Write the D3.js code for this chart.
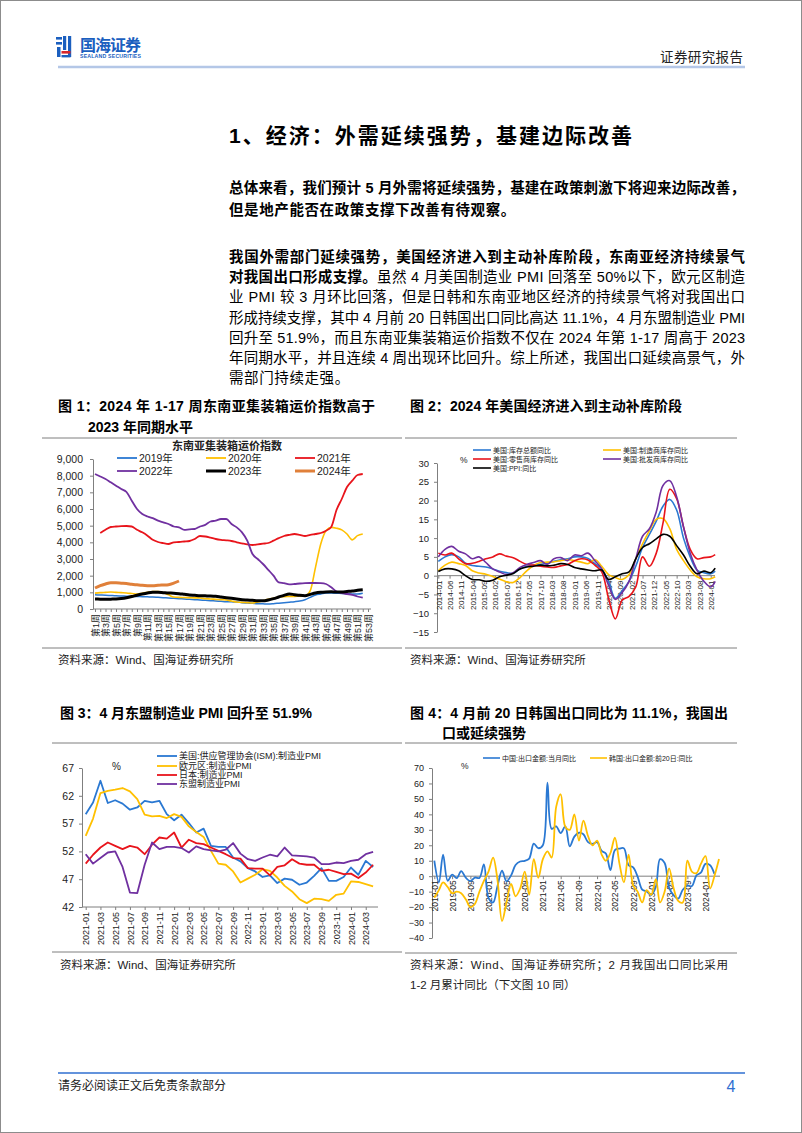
<!DOCTYPE html>
<html>
<head>
<meta charset="utf-8">
<script src="https://cdnjs.cloudflare.com/ajax/libs/d3/7.8.5/d3.min.js"></script>
<style>
  body { margin: 0; background: #fff; }
  svg { display: block; }
</style>
</head>
<body>
<script>
// ---------- fig 1: 东南亚集装箱运价指数 (weekly) ----------
const weeks = d3.range(1, 54);
const ship2019 = [850, 840, 830, 810, 790, 780, 770, 760, 750, 740, 730, 720, 700, 680, 660, 640, 620, 600, 580, 560,
  540, 520, 500, 480, 460, 440, 430, 420, 380, 360, 340, 320, 310, 300, 320, 350, 380, 410, 440, 480,
  560, 700, 840, 900, 960, 960, 950, 930, 920, 900, 900, 950];
const ship2020 = [950, 980, 1000, 1020, 1000, 980, 960, 930, 900, 950, 1000, 1040, 1050, 980, 850, 720, 700, 690, 680, 670,
  660, 620, 600, 580, 560, 540, 480, 420, 400, 380, 360, 420, 500, 580, 650, 720, 740, 750, 760, 770,
  780, 1100, 2500, 3900, 4700, 4900, 4850, 4750, 4500, 4150, 4400, 4500];
const ship2021 = [null, 4560, 4750, 4920, 4950, 4970, 4980, 4950, 4750, 4600, 4400, 4150, 4020, 3950, 3900, 4000, 4020, 4050, 4080, 4200,
  4380, 4350, 4280, 4200, 4150, 4120, 4080, 4000, 3940, 3880, 3840, 3880, 3920, 3960, 4100, 4250, 4380, 4450, 4500, 4450,
  4380, 4450, 4500, 4560, 4700, 4920, 5940, 6600, 7320, 7700, 8040, 8100];
const ship2022 = [8100, 7950, 7800, 7600, 7400, 7200, 7020, 6500, 6000, 5700, 5550, 5450, 5300, 5200, 5100, 4950, 4900, 4750, 4780, 4800,
  4950, 5050, 5250, 5300, 5400, 5400, 5100, 4900, 4600, 4100, 3300, 3000, 2700, 2350, 2000, 1600, 1550, 1480, 1500, 1530,
  1550, 1560, 1560, 1550, 1500, 1300, 1050, 950, 900, 850, 750, 680];
const ship2023 = [600, 590, 580, 590, 600, 630, 680, 750, 830, 900, 960, 1000, 1000, 980, 960, 950, 920, 880, 840, 820,
  800, 790, 780, 760, 720, 680, 640, 600, 560, 540, 520, 500, 490, 540, 620, 720, 820, 900, 860, 820,
  800, 880, 960, 1000, 1020, 1030, 1020, 1020, 1050, 1080, 1120, 1150];
const ship2024 = [1260, 1400, 1500, 1580, 1570, 1550, 1530, 1480, 1450, 1420, 1400, 1390, 1420, 1440, 1460, 1550, 1680];
const shipYears = ["2019年", "2020年", "2021年", "2022年", "2023年", "2024年"];

// ---------- fig 2: 美国库存 (quarterly readings, 2014-01 .. 2024-03) ----------
const invMonths = d3.utcMonths(new Date(Date.UTC(2014, 0, 1)), new Date(Date.UTC(2024, 1, 1)), 3)
  .concat([new Date(Date.UTC(2024, 2, 1))]);
const invTotal = [3.8, 5.0, 5.6, 5.0, 3.3, 2.7, 2.5, 2.3, 1.8, 1.2, 0.8, 0.6, 1.8, 2.5, 2.8, 3.0, 3.3, 3.8, 4.2, 4.5,
  5.0, 5.0, 4.6, 3.2, 1.8, -1.5, -6.0, -4.0, -1.5, 2.5, 7.5, 11.0, 14.5, 18.5, 20.3, 17.5, 10.0, 5.0, 1.5, 0.8, 0.5, 1.2];
const invMfg = [1.3, 2.8, 3.6, 3.2, 2.7, 1.3, 0.7, 0.4, -0.2, -0.9, -1.6, -1.8, -0.5, 1.3, 2.7, 3.5, 3.6, 3.7, 4.0, 4.3,
  4.0, 3.6, 3.2, 4.3, 2.5, 0.3, -0.5, -1.0, 0.3, 4.5, 8.5, 12.0, 15.0, 15.2, 12.5, 7.0, 4.0, 1.5, -0.3, -0.8, -0.8, -0.3];
const invRetail = [6.0, 5.5, 6.0, 4.5, 3.2, 3.3, 3.8, 4.5, 5.0, 5.8, 5.2, 4.8, 3.8, 3.0, 2.8, 2.5, 2.3, 2.2, 2.6, 3.0,
  4.0, 4.5, 4.2, 2.8, 1.0, -6.0, -11.5, -6.5, -5.5, -3.0, 5.0, 2.5, 6.0, 14.0, 23.0, 20.5, 13.0, 7.0, 4.5, 4.8, 5.0, 5.6];
const invWholesale = [5.0, 7.0, 7.8, 6.5, 5.8, 4.5, 5.0, 3.5, 1.8, 1.0, 0.3, 0.8, 2.2, 3.0, 3.5, 4.0, 3.0, 4.5, 4.8, 4.0,
  5.5, 5.3, 6.0, 4.0, 1.8, -2.5, -6.3, -4.5, -1.5, 4.5, 10.5, 12.5, 17.0, 24.0, 25.3, 21.0, 13.0, 6.0, 1.5, -1.5, -3.0, -1.5];
const usPpi = [1.1, 1.8, 1.8, 1.3, 0.0, -1.0, -1.1, -1.5, -1.2, -0.3, 0.1, 0.6, 1.8, 2.3, 2.5, 2.8, 2.6, 2.8, 3.2, 3.0,
  2.2, 1.8, 1.5, 1.3, 1.5, -1.0, -0.3, 0.5, 1.0, 4.5, 7.5, 8.5, 9.8, 11.0, 10.5, 8.0, 5.5, 2.5, 0.5, 1.2, 0.8, 2.0];
const invNames = ["美国:库存总额同比", "美国:制造商库存同比", "美国:零售商库存同比", "美国:批发商库存同比", "美国:PPI:同比"];

// ---------- fig 3: PMI (2021-01 .. 2024-04) ----------
const pmiMonths = d3.utcMonths(new Date(Date.UTC(2021, 0, 1)), new Date(Date.UTC(2024, 4, 1)));
const pmiUS = [58.7, 60.8, 64.7, 60.7, 61.2, 60.6, 59.5, 59.9, 61.1, 60.8, 61.1, 58.7, 57.6, 58.6, 57.1, 55.4, 56.1, 53.0, 52.8, 52.8,
  50.9, 50.2, 49.0, 48.4, 47.4, 47.7, 46.3, 47.1, 46.9, 46.0, 46.4, 47.6, 49.0, 46.7, 46.7, 47.4, 49.1, 47.8, 50.3, 49.2];
const pmiEuro = [54.8, 57.9, 62.5, 62.9, 63.1, 63.4, 62.8, 61.4, 58.6, 58.3, 58.4, 58.0, 58.7, 58.2, 56.5, 55.5, 54.6, 52.1, 49.8, 49.6,
  48.4, 46.4, 47.1, 47.8, 48.8, 48.5, 47.3, 45.8, 44.8, 43.4, 42.7, 43.5, 43.4, 43.1, 44.2, 44.4, 46.6, 46.5, 46.1, 45.7];
const pmiJapan = [49.8, 51.4, 52.7, 53.6, 53.0, 52.4, 53.0, 52.7, 51.5, 53.2, 54.5, 54.3, 55.4, 52.7, 54.1, 53.5, 53.3, 52.7, 52.1, 51.5,
  50.8, 50.7, 49.0, 48.9, 48.9, 47.7, 49.2, 49.5, 50.6, 49.8, 49.6, 49.6, 48.5, 48.7, 48.3, 47.9, 48.0, 47.2, 48.2, 49.6];
const pmiAsean = [51.5, 49.8, 50.8, 51.8, 52.0, 49.2, 44.6, 44.5, 49.6, 53.6, 52.4, 52.8, 52.8, 52.6, 51.8, 52.9, 52.4, 52.2, 52.0, 52.3,
  53.5, 51.6, 50.6, 50.3, 50.9, 51.4, 51.1, 52.7, 51.3, 51.2, 51.1, 50.9, 49.7, 49.7, 50.0, 49.9, 50.3, 50.5, 51.5, 51.9];
const pmiNames = ["美国:供应管理协会(ISM):制造业PMI", "欧元区:制造业PMI", "日本:制造业PMI", "东盟制造业PMI"];

// ---------- fig 4: 出口同比 (2019-01 .. 2024-04) ----------
const expMonths = d3.utcMonths(new Date(Date.UTC(2019, 0, 1)), new Date(Date.UTC(2024, 4, 1)));
const expChina = [10, -4, 14, -3, 1, -1.3, 3.3, -1, -3.2, -0.9, -1.1, 7.6,
  -14, -17, -6.6, 3.5, -3.3, 0.5, 7.2, 9.5, 9.9, 11.4, 21.1, 18.1,
  20, 60.6, 30.6, 32.3, 27.9, 32.2, 19.3, 25.6, 28.1, 27.1, 22, 20.9,
  22, 16.3, 14.7, 3.9, 16.9, 17.9, 18, 7.1, 5.7, -0.3, -8.7, -9.9,
  -12, -6.8, 11, 8.5, -7.5, -12.4, -14.5, -8.8, -6.2, -6.4, 0.5, 2.3,
  8, 7.1, 1.5];
const expKorea = [-14, -9, -4, -7, -11, -10, -11, -15, -20, -18, -10, -3,
  3, 12, -2, -29, -17, -5, -13, -8, 3, -12, 11, -1,
  11, 16, 12, 45, 53, 32, 30, 40, 23, 36, 26, 20,
  23, 14, 10, 15, 25, 8, -4, 14, -6, -10, -17, -9,
  -12, -2, -17, -10, 5, -8, -16, -17, 10, 3, 2, 8,
  13, -8, 0, 11.1];
const expNames = ["中国:出口金额:当月同比", "韩国:出口金额:前20日:同比"];

// ---------- drawing ----------
const SANS = "'Liberation Sans', Arial, 'Noto Sans CJK SC', sans-serif";
const AX = "#7f7f7f";
const BLUE = "#2a78d2", YELLOW = "#ffc000", RED = "#e8141b", PURPLE = "#7030a0", ORANGE = "#e0803a";

const svg = d3.select("body").append("svg").attr("width", 802).attr("height", 1133);
svg.append("rect").attr("x", 0.5).attr("y", 0.5).attr("width", 801).attr("height", 1132)
  .attr("fill", "#fff").attr("stroke", "#8c8c8c");

function T(x, y, str, size, o = {}) {
  const t = svg.append("text").attr("x", x).attr("y", y).attr("font-size", size)
    .attr("font-family", SANS).attr("fill", o.fill || "#000")
    .attr("font-weight", o.bold ? "bold" : "normal");
  if (o.anchor) t.attr("text-anchor", o.anchor);
  if (o.len) t.attr("textLength", o.len).attr("lengthAdjust", "spacing");
  if (o.ls) t.attr("letter-spacing", o.ls);
  t.text(str);
  return t;
}
function rich(x, y, parts, size, len, ls) {
  const t = svg.append("text").attr("x", x).attr("y", y).attr("font-size", size)
    .attr("font-family", SANS).attr("fill", "#000");
  if (len) t.attr("textLength", len).attr("lengthAdjust", "spacing");
  if (ls) t.attr("letter-spacing", ls);
  parts.forEach(p => t.append("tspan").attr("font-weight", p[1] ? "bold" : "normal").text(p[0]));
}
function hline(x1, x2, y, color, w) {
  svg.append("line").attr("x1", x1).attr("x2", x2).attr("y1", y).attr("y2", y)
    .attr("stroke", color).attr("stroke-width", w);
}
function styleAxis(g, fs) {
  g.select(".domain").attr("stroke", AX);
  g.selectAll(".tick line").attr("stroke", AX);
  g.selectAll("text").attr("font-family", SANS).attr("font-size", fs).attr("fill", "#222");
}
function yAxis(scale, x, vals, fmt, fs, pad) {
  const g = svg.append("g").attr("transform", `translate(${x},0)`)
    .call(d3.axisLeft(scale).tickValues(vals).tickFormat(fmt).tickSize(3).tickSizeOuter(0).tickPadding(pad));
  styleAxis(g, fs);
}
function xAxisRot(scale, y, vals, fmt, fs, gap, x0, x1) {
  const g = svg.append("g").attr("transform", `translate(0,${y})`)
    .call(d3.axisBottom(scale).tickValues(vals).tickFormat(fmt).tickSize(3).tickSizeOuter(0));
  g.select(".domain").remove();
  g.append("line").attr("x1", x0).attr("x2", x1).attr("stroke", AX);
  g.selectAll("text").attr("transform", "rotate(-90)").attr("text-anchor", "end")
    .attr("x", -gap).attr("y", 0).attr("dy", "0.35em");
  styleAxis(g, fs);
}
function legend(x, y, len, color, w, label, fs) {
  hline(x, x + len, y, color, w);
  T(x + len + 2, y + fs * 0.36, label, fs, { fill: "#222" });
}
function plot(xs, ys, x, y, color, w, curve) {
  const pts = ys.map((v, i) => [xs[i], v]);
  svg.append("path").datum(pts)
    .attr("fill", "none").attr("stroke", color).attr("stroke-width", w).attr("stroke-linejoin", "round")
    .attr("d", d3.line().defined(d => d[1] != null).x(d => x(d[0])).y(d => y(d[1])).curve(curve || d3.curveLinear));
}

// ---- header ----
const LOGO = "#1b5fbf";
[[56, 37, 6, 2.6], [56, 42, 6, 2.6], [57, 47, 3.5, 10], [63, 36, 3.2, 14], [68, 36, 3.2, 21], [61.5, 55, 9, 2.4]]
  .forEach(r => svg.append("rect").attr("x", r[0]).attr("y", r[1]).attr("width", r[2]).attr("height", r[3]).attr("fill", LOGO));
svg.append("rect").attr("x", 61.5).attr("y", 51).attr("width", 9).attr("height", 2.6).attr("fill", "#d7262b");
T(80, 51, "国海证券", 16, { bold: true, fill: LOGO, len: 61 });
T(80, 58, "SEALAND SECURITIES", 5.2, { bold: true, fill: LOGO, len: 61 });
T(660, 62, "证券研究报告", 13.5, { fill: "#222", len: 83 });
hline(58, 745, 67, "#b4c7e7", 2.5);

// ---- heading and body ----
T(229, 143, "1、经济：外需延续强势，基建边际改善", 21, { bold: true, len: 403 });
const BX = 229, BW = 516, BF = 14.5;
rich(BX, 193, [["总体来看，我们预计 5 月外需将延续强势，基建在政策刺激下将迎来边际改善，", 1]], BF, BW);
rich(BX, 215, [["但是地产能否在政策支撑下改善有待观察。", 1]], BF, null, 0.6);
const bodyLines = [
  [["我国外需部门延续强势，美国经济进入到主动补库阶段，东南亚经济持续景气", 1]],
  [["对我国出口形成支撑。", 1], ["虽然 4 月美国制造业 PMI 回落至 50%以下，欧元区制造", 0]],
  [["业 PMI 较 3 月环比回落，但是日韩和东南亚地区经济的持续景气将对我国出口", 0]],
  [["形成持续支撑，其中 4 月前 20 日韩国出口同比高达 11.1%，4 月东盟制造业 PMI", 0]],
  [["回升至 51.9%，而且东南亚集装箱运价指数不仅在 2024 年第 1-17 周高于 2023", 0]],
  [["年同期水平，并且连续 4 周出现环比回升。综上所述，我国出口延续高景气，外", 0]]
];
bodyLines.forEach((l, i) => rich(BX, 262 + i * 20.2, l, BF, BW));
rich(BX, 262 + 6 * 20.2, [["需部门持续走强。", 0]], BF, null, 0.6);

// ---- figure captions & rules ----
T(58, 411, "图 1：2024 年 1-17 周东南亚集装箱运价指数高于", 14, { bold: true, len: 317 });
T(88, 432, "2023 年同期水平", 14, { bold: true });
T(410, 411, "图 2：2024 年美国经济进入到主动补库阶段", 14, { bold: true, len: 272 });
T(60, 718, "图 3：4 月东盟制造业 PMI 回升至 51.9%", 14, { bold: true, len: 252 });
T(410, 718, "图 4：4 月前 20 日韩国出口同比为 11.1%，我国出", 14, { bold: true, len: 318 });
T(442, 738, "口或延续强势", 14, { bold: true });
hline(42, 402, 438, AX, 1); hline(42, 402, 648, AX, 1);
hline(405, 737, 438, AX, 1); hline(405, 737, 648, AX, 1);
hline(52, 402, 743, AX, 1); hline(52, 402, 952, AX, 1);
hline(405, 737, 743, AX, 1); hline(405, 737, 953, AX, 1);
T(58, 664, "资料来源：Wind、国海证券研究所", 11.5, { fill: "#222" });
T(410, 664, "资料来源：Wind、国海证券研究所", 11.5, { fill: "#222" });
T(60, 969, "资料来源：Wind、国海证券研究所", 11.5, { fill: "#222" });
T(410, 969, "资料来源：Wind、国海证券研究所；2 月我国出口同比采用", 11.5, { fill: "#222", len: 318 });
T(410, 989, "1-2 月累计同比（下文图 10 同）", 11.5, { fill: "#222" });

// ---- footer ----
hline(58, 745, 1073, "#2f6fd1", 1.5);
T(58, 1090, "请务必阅读正文后免责条款部分", 12, { fill: "#222" });
T(731, 1092, "4", 16, { fill: "#2f6fd1", anchor: "middle" });

// ---- fig 1 ----
{
  const x = d3.scaleLinear().domain([1, 53]).range([95, 368]);
  const y = d3.scaleLinear().domain([0, 9000]).range([609, 459]);
  yAxis(y, 93, d3.range(0, 9001, 1000), d3.format(","), 10.5, 7);
  xAxisRot(x, 609, weeks, d => d % 2 ? "第" + d + "周" : "", 9, 5, 93, 371);
  const series = [ship2019, ship2020, ship2021, ship2022, ship2023, ship2024];
  const colors = [BLUE, YELLOW, RED, PURPLE, "#000", ORANGE];
  const widths = [1.5, 1.6, 1.8, 1.8, 3, 3];
  series.forEach((s, i) => plot(weeks, s, x, y, colors[i], widths[i], d3.curveMonotoneX));
  T(227, 450, "东南亚集装箱运价指数", 11, { bold: true, anchor: "middle", fill: "#222" });
  const lx = [117, 206, 295];
  shipYears.forEach((n, i) => legend(lx[i % 3], i < 3 ? 458 : 471, 20, colors[i], i > 3 ? 3 : 1.8, n, 10.5));
}

// ---- fig 2 ----
{
  const x = d3.scaleUtc().domain([invMonths[0], invMonths[invMonths.length - 1]]).range([438.3, 715.2]);
  const y = d3.scaleLinear().domain([-15, 30]).range([632, 463]);
  yAxis(y, 437, d3.range(-15, 31, 5), d3.format("d"), 9.5, 5);
  const ticks = d3.utcMonths(new Date(Date.UTC(2014, 0, 1)), new Date(Date.UTC(2024, 1, 1)), 5);
  xAxisRot(x, y(0), ticks, d3.utcFormat("%Y-%m"), 8, 5, 437, 715);
  const series = [invTotal, invMfg, invRetail, invWholesale, usPpi];
  const colors = [BLUE, YELLOW, RED, PURPLE, "#000"];
  series.forEach((s, i) => plot(invMonths, s, x, y, colors[i], 1.6, d3.curveCatmullRom.alpha(0.5)));
  const pos = [[473, 450], [603, 450], [473, 459], [603, 459], [473, 468]];
  invNames.forEach((n, i) => legend(pos[i][0], pos[i][1], 18, colors[i], 1.6, n, 7));
  T(460, 463, "%", 8.5, { fill: "#222" });
}

// ---- fig 3 ----
{
  const x = d3.scalePoint().domain(pmiMonths).range([85.7, 373.1]);
  const y = d3.scaleLinear().domain([42, 67]).range([907, 768]);
  yAxis(y, 82, [42, 47, 52, 57, 62, 67], d3.format("d"), 10.5, 5);
  const ticks = pmiMonths.filter((d, i) => i % 2 === 0);
  xAxisRot(x, 907, ticks, d3.utcFormat("%Y-%m"), 9, 5, 82, 378);
  const series = [pmiUS, pmiEuro, pmiJapan, pmiAsean];
  const colors = [BLUE, YELLOW, RED, PURPLE];
  series.forEach((s, i) => plot(pmiMonths, s, x, y, colors[i], 1.8));
  [756, 766, 775, 784].forEach((ly, i) => legend(157, ly, 20, colors[i], 1.8, pmiNames[i], 9));
  T(112, 770, "%", 10, { fill: "#222" });
}

// ---- fig 4 ----
{
  const x = d3.scaleUtc().domain([expMonths[0], expMonths[expMonths.length - 1]]).range([434.3, 719]);
  const y = d3.scaleLinear().domain([-40, 70]).range([938, 768]);
  yAxis(y, 432, d3.range(-40, 71, 10), d3.format("d"), 9, 5);
  const ticks = expMonths.filter((d, i) => i % 4 === 0 && i < 61);
  xAxisRot(x, y(0), ticks, d3.utcFormat("%Y-%m"), 8.5, 4, 432, 720);
  plot(expMonths, expChina, x, y, BLUE, 1.8, d3.curveCatmullRom.alpha(0.5));
  plot(expMonths, expKorea, x, y, YELLOW, 1.8, d3.curveCatmullRom.alpha(0.5));
  legend(483, 758, 17, BLUE, 1.6, expNames[0], 7);
  legend(590, 758, 17, YELLOW, 1.6, expNames[1], 7);
  T(461, 769, "%", 8.5, { fill: "#222" });
}
</script>
</body>
</html>
